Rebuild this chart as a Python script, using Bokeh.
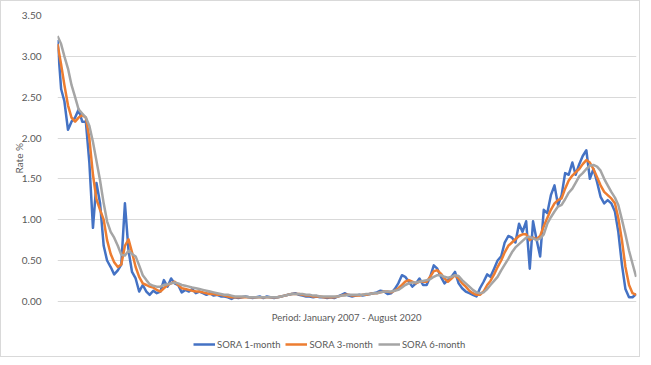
import pandas as pd
from bokeh.plotting import figure
from bokeh.models import (Range1d, Legend, LegendItem, FixedTicker,
                          CustomJSTickFormatter, Label, Title)
from bokeh.embed import file_html
from bokeh.resources import INLINE

months = pd.date_range("2007-01-01", "2020-08-01", freq="MS")

sora_1m = [
    3.2, 2.6, 2.45, 2.1, 2.2, 2.25, 2.35, 2.2, 2.2, 1.7,
    0.9, 1.45, 1.2, 0.68, 0.5, 0.42, 0.33, 0.38, 0.45, 1.2,
    0.62, 0.36, 0.28, 0.12, 0.2, 0.12, 0.08, 0.13, 0.1, 0.12,
    0.26, 0.18, 0.28, 0.22, 0.2, 0.11, 0.14, 0.12, 0.15, 0.1,
    0.12, 0.1, 0.08, 0.1, 0.07, 0.08, 0.06, 0.06, 0.05, 0.03,
    0.05, 0.04, 0.05, 0.06, 0.05, 0.04, 0.05, 0.06, 0.04, 0.06,
    0.05, 0.04, 0.05, 0.06, 0.07, 0.08, 0.09, 0.1, 0.08, 0.07,
    0.06, 0.06, 0.05, 0.06, 0.05, 0.05, 0.04, 0.05, 0.04, 0.06,
    0.08, 0.1, 0.07, 0.06, 0.07, 0.08, 0.07, 0.08, 0.09, 0.1,
    0.11, 0.13, 0.12, 0.09, 0.1, 0.15, 0.22, 0.32, 0.3, 0.24,
    0.18, 0.22, 0.28, 0.2, 0.2, 0.3, 0.44, 0.4, 0.3, 0.22,
    0.26, 0.3, 0.36, 0.22, 0.16, 0.12, 0.1, 0.08, 0.06, 0.16,
    0.24, 0.33, 0.3, 0.4, 0.5, 0.55, 0.72, 0.8, 0.78, 0.72,
    0.95, 0.85, 0.98, 0.4, 0.98, 0.75, 0.55, 1.12, 1.08, 1.3,
    1.42, 1.18, 1.3, 1.57, 1.55, 1.7, 1.55, 1.68, 1.78, 1.85,
    1.5, 1.62, 1.46, 1.28, 1.2, 1.24, 1.2, 1.1, 0.85, 0.45,
    0.15, 0.05, 0.05, 0.09,
]

sora_3m = [
    3.15, 2.9, 2.65, 2.4, 2.25, 2.2, 2.25, 2.28, 2.25, 2.0,
    1.55, 1.25, 1.12, 1.0, 0.75, 0.58, 0.48, 0.42, 0.45, 0.68,
    0.76, 0.6, 0.42, 0.3, 0.22, 0.2, 0.18, 0.17, 0.14, 0.12,
    0.16, 0.2, 0.22, 0.24, 0.2, 0.16, 0.15, 0.14, 0.13, 0.12,
    0.12, 0.11, 0.1, 0.09, 0.09, 0.08, 0.08, 0.07, 0.06, 0.05,
    0.05, 0.05, 0.05, 0.05, 0.05, 0.05, 0.05, 0.05, 0.05, 0.05,
    0.05, 0.05, 0.05, 0.06, 0.07, 0.08, 0.09, 0.09, 0.09, 0.08,
    0.07, 0.07, 0.06, 0.06, 0.06, 0.05, 0.05, 0.05, 0.05, 0.06,
    0.07, 0.08, 0.08, 0.07, 0.07, 0.07, 0.08, 0.08, 0.09, 0.1,
    0.1, 0.11, 0.12, 0.12, 0.11, 0.13, 0.16, 0.2, 0.24, 0.26,
    0.24, 0.22, 0.24, 0.24, 0.24, 0.3, 0.37, 0.38, 0.34, 0.28,
    0.24, 0.28, 0.32, 0.28, 0.22, 0.18, 0.13, 0.1, 0.08, 0.08,
    0.12, 0.2, 0.25, 0.33, 0.42, 0.5, 0.6, 0.68, 0.72, 0.76,
    0.8, 0.82, 0.82, 0.75, 0.78, 0.76, 0.8, 0.92, 1.02, 1.12,
    1.2, 1.24, 1.26, 1.38, 1.48, 1.54, 1.58, 1.62, 1.68, 1.73,
    1.7, 1.62, 1.52, 1.42, 1.34, 1.3, 1.26, 1.2, 1.02, 0.75,
    0.42, 0.2, 0.1, 0.08,
]

sora_6m = [
    3.25, 3.15, 3.0, 2.85, 2.65, 2.5, 2.35, 2.3, 2.25, 2.15,
    1.95, 1.72, 1.48, 1.2, 0.98, 0.85, 0.78, 0.68, 0.57, 0.56,
    0.62, 0.58, 0.55, 0.44, 0.32, 0.26, 0.21, 0.19, 0.18, 0.18,
    0.2, 0.21, 0.22, 0.23, 0.22, 0.2, 0.19, 0.18, 0.17, 0.16,
    0.15, 0.14, 0.13, 0.12, 0.11, 0.1, 0.09, 0.08, 0.08, 0.07,
    0.06, 0.06, 0.06, 0.06, 0.05, 0.05, 0.05, 0.05, 0.05, 0.05,
    0.05, 0.05, 0.05, 0.06, 0.07, 0.08, 0.09, 0.09, 0.09, 0.09,
    0.08, 0.08, 0.07, 0.07, 0.06, 0.06, 0.06, 0.06, 0.06, 0.06,
    0.07, 0.07, 0.08, 0.08, 0.08, 0.08, 0.08, 0.09, 0.09, 0.1,
    0.1, 0.11, 0.12, 0.12, 0.12, 0.13, 0.14, 0.17, 0.2, 0.22,
    0.23, 0.23, 0.24, 0.25, 0.26, 0.27, 0.3, 0.32, 0.32, 0.3,
    0.29, 0.3, 0.32, 0.31, 0.26, 0.22, 0.18, 0.14, 0.11, 0.1,
    0.11, 0.15, 0.2, 0.25, 0.3, 0.38, 0.45, 0.52, 0.6, 0.66,
    0.7, 0.74, 0.78, 0.79, 0.77, 0.75, 0.77, 0.82, 0.95, 1.03,
    1.1, 1.16, 1.18, 1.25, 1.33, 1.38, 1.45, 1.53, 1.57, 1.62,
    1.66, 1.67, 1.65, 1.6, 1.5, 1.42, 1.34, 1.27, 1.18, 1.0,
    0.82, 0.62, 0.46, 0.3,
]

series_names = ["SORA 1-month", "SORA 3-month", "SORA 6-month"]
series_colors = ["#4472C4", "#ED7D31", "#A5A5A5"]
y_ticks = [0.0, 0.5, 1.0, 1.5, 2.0, 2.5, 3.0, 3.5]
x_title = "Period: January 2007 - August 2020"
y_title = "Rate %"

TEXT = "#595959"
FONT = "Lato"

x_start = months[0]
x_end = months[-1] + pd.Timedelta(days=3)

# the frame reaches down to the bottom of the chart so that the axis title
# and the legend sit in the white area under the 0.00 line
p = figure(width=640, height=357, x_axis_type="datetime",
           x_axis_location=None,
           output_backend="svg", toolbar_location=None,
           x_range=Range1d(x_start, x_end),
           y_range=Range1d(-0.7, 3.5),
           min_border_left=56, min_border_right=5,
           min_border_top=14, min_border_bottom=0)
p.styles = {"border": "1px solid #d9d9d9"}
p.outline_line_color = None
p.background_fill_color = "white"

renderers = []
for vals, col in zip([sora_1m, sora_3m, sora_6m], series_colors):
    r = p.line(months, vals, line_color=col, line_width=2.5, line_join="round")
    renderers.append(r)

# y axis
p.yaxis.ticker = FixedTicker(ticks=y_ticks)
p.yaxis.formatter = CustomJSTickFormatter(code="return tick.toFixed(2);")
p.yaxis.axis_line_color = None
p.yaxis.major_tick_line_color = None
p.yaxis.minor_tick_line_color = None
p.yaxis.major_label_text_font = FONT
p.yaxis.major_label_text_font_size = "10px"
p.yaxis.major_label_text_color = TEXT
p.yaxis.major_label_standoff = 10

ytitle = Title(text=y_title, align="left", offset=185, standoff=-13,
               text_font=FONT, text_font_size="10px", text_font_style="normal",
               text_color=TEXT)
p.add_layout(ytitle, "left")

p.xgrid.grid_line_color = None
p.ygrid.grid_line_color = "#d9d9d9"
p.ygrid.grid_line_width = 1

# x axis title, under the 0.00 line
x_mid = x_start + (x_end - x_start) / 2
p.add_layout(Label(x=x_mid, y=-0.196, text=x_title, text_align="center",
                   text_baseline="middle", text_font=FONT,
                   text_font_size="9.5px", text_color=TEXT))

legend = Legend(items=[LegendItem(label=n, renderers=[r]) for n, r in zip(series_names, renderers)],
                orientation="horizontal", location=(136, 8))
legend.label_text_font = FONT
legend.label_text_font_size = "9.5px"
legend.label_text_color = TEXT
legend.glyph_width = 22
legend.glyph_height = 12
legend.label_standoff = 2
legend.spacing = 5
legend.padding = 0
legend.margin = 0
legend.border_line_color = None
legend.background_fill_alpha = 0
p.add_layout(legend, "center")

open("out.html", "w").write(file_html(p, INLINE))
